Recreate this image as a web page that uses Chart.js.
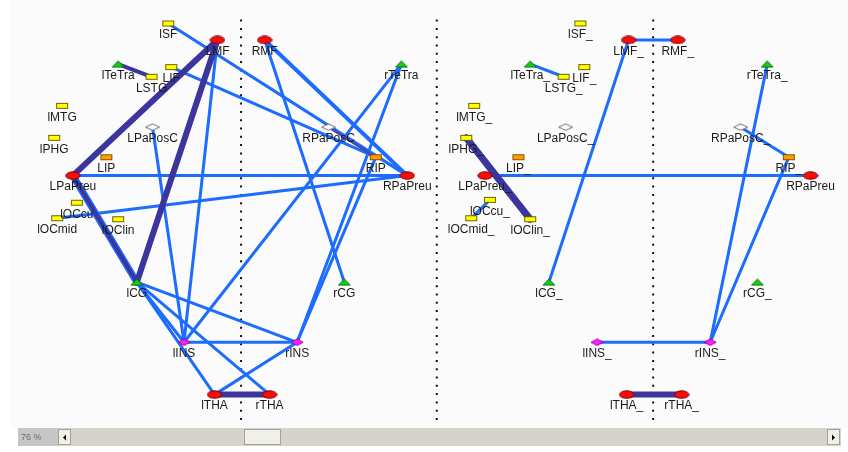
<!DOCTYPE html>
<html>
<head>
<meta charset="utf-8">
<script src="https://cdn.jsdelivr.net/npm/chart.js@4.4.1/dist/chart.umd.min.js"></script>
<style>
html,body{margin:0;padding:0;background:#ffffff;overflow:hidden;}
#wrap{position:absolute;left:0;top:0;width:848px;height:452px;}
</style>
</head>
<body>
<div id="wrap"><canvas id="c" width="848" height="452"></canvas></div>
<script>
// ---- data ----
const nodeNames = ["lSF","LMF","RMF","lTeTra","LSTG","LIF","rTeTra","lMTG","lPHG","LPaPosC","RPaPosC","LIP","RIP","LPaPreu","RPaPreu","lOCcu","lOCmid","lOClin","lCG","rCG","lINS","rINS","lTHA","rTHA"];
const nodeKinds = ["yellow","red","red","green","yellow","yellow","green","yellow","yellow","white","white","orange","orange","red","red","yellow","yellow","yellow","green","green","magenta","magenta","red","red"];
const leftX  = [164,214,262,113,147,167,401,56,48,148,327,101,375,67,407,71,51,113,132,343,180,295,211,267];
const leftY  = [17,34,34,59,72,62,59,102,135,124,124,155,155,174,174,202,218,219,284,284,346,346,400,400];
const rightX = [583,632,682,532,566,587,773,475,467,568,746,520,795,486,817,491,472,532,551,763,600,715,630,686];
const rightY = [17,34,34,59,72,62,59,102,135,124,124,155,155,174,174,199,218,219,284,284,346,346,400,400];
const rightLabels = nodeNames.map(n => n === "RPaPreu" ? "RPaPreu" : n + "_");

// edges: [from, to, type]  type: "b" = normal link, "B" = strong link, "p" = purple link, "P" = strong purple link
const leftEdges = [
  ["lSF","RPaPreu","b"],["LIF","RIP","b"],["RMF","RPaPreu","B"],["RMF","rCG","b"],
  ["LMF","LPaPreu","P"],["LMF","lCG","P"],["LMF","lINS","b"],["lTeTra","LSTG","p"],
  ["LPaPosC","lINS","b"],["RPaPosC","RIP","q"],["LPaPreu","RPaPreu","b"],["LPaPreu","lCG","u"],
  ["LPaPreu","lCG","p"],["lOCmid","RPaPreu","b"],["lCG","lINS","b"],["lCG","lTHA","b"],
  ["lCG","rTHA","b"],["lCG","rINS","b"],["lINS","rINS","b"],["lINS","rTeTra","b"],
  ["rINS","rTeTra","b"],["rINS","RIP","b"],["lTHA","rINS","b"],["lTHA","rTHA","P"]
];
const rightEdges = [
  ["LMF","RMF","b"],["LMF","lCG","b"],["lTeTra","LSTG","b"],["lPHG","lOClin","W"],
  ["lOCcu","lOCmid","b"],["LPaPreu","RPaPreu","b"],["RPaPosC","RIP","b"],["rTeTra","rINS","b"],
  ["RIP","rINS","b"],["lINS","rINS","b"],["lTHA","rTHA","P"]
];
const guideX = [238,437,657];
const zoomLabel = "76 %";

// ---- styles ----
const BLUE = "rgb(28,108,255)";
const PURPLE = "rgb(58,54,158)";
const edgeStyle = {
  b:{color:BLUE,width:3,order:3},
  B:{color:BLUE,width:4,order:3},
  u:{color:BLUE,width:7,order:4},
  p:{color:PURPLE,width:4,order:2},
  q:{color:"rgb(80,70,170)",width:2.5,order:2},
  P:{color:PURPLE,width:6,order:2},
  W:{color:PURPLE,width:7,order:2}
};

function makeShape(kind){
  const c = document.createElement("canvas");
  const g = c.getContext("2d");
  let w=14,h=8;
  if(kind==="white"){w=16;h=8;}
  if(kind==="red"){w=16;h=9;}
  c.width=w;c.height=h;
  g.lineWidth=1;
  if(kind==="red"){
    g.fillStyle="#ff0a0a";g.strokeStyle="#7a0000";
    g.beginPath();g.ellipse(w/2,h/2,w/2-0.8,h/2-0.8,0,0,Math.PI*2);g.fill();g.stroke();
  } else if(kind==="yellow"||kind==="orange"){
    g.fillStyle = kind==="yellow" ? "#ffff00" : "#ff9c00";
    g.strokeStyle = kind==="yellow" ? "#6e6400" : "#8a5200";
    g.fillRect(1,1,w-2,h-2);g.strokeRect(1.5,1.5,w-3,h-3);
  } else if(kind==="green"){
    g.fillStyle="#10d010";g.strokeStyle="#107010";
    g.beginPath();g.moveTo(w/2,0.8);g.lineTo(w-1,h-1);g.lineTo(1,h-1);g.closePath();g.fill();g.stroke();
  } else {
    g.fillStyle = kind==="white" ? "#ffffff" : "#ff20ff";
    g.strokeStyle = kind==="white" ? "#707070" : "#a000a0";
    g.beginPath();g.moveTo(w/2,0.8);g.lineTo(w-1,h/2);g.lineTo(w/2,h-0.8);g.lineTo(1,h/2);g.closePath();g.fill();g.stroke();
  }
  return c;
}
const shapes = {};
["red","yellow","orange","green","white","magenta"].forEach(k=>shapes[k]=makeShape(k));

const datasets = [];
function addEdges(edges, xs, ys){
  edges.forEach(e=>{
    const a = nodeNames.indexOf(e[0]), b = nodeNames.indexOf(e[1]);
    const s = edgeStyle[e[2]];
    datasets.push({
      data:[{x:xs[a],y:ys[a]},{x:xs[b],y:ys[b]}],
      showLine:true,borderColor:s.color,borderWidth:s.width,pointRadius:0,
      borderCapStyle:"round",order:s.order
    });
  });
}
addEdges(leftEdges,leftX,leftY);
addEdges(rightEdges,rightX,rightY);

guideX.forEach(gx=>{
  datasets.push({data:[{x:gx,y:13},{x:gx,y:430}],showLine:true,borderColor:"#111",borderWidth:2,
    borderDash:[2,6.3],pointRadius:0,order:6});
});

function addNodes(xs, ys){
  datasets.push({
    data: xs.map((x,i)=>({x:x,y:ys[i]})),
    pointStyle: nodeKinds.map(k=>shapes[k]),
    pointRadius:6,showLine:false,order:0
  });
}
addNodes(leftX,leftY);
addNodes(rightX,rightY);

const decor = {
  id:"decor",
  beforeDraw(chart){
    const g = chart.ctx;
    g.save();
    g.fillStyle="#ffffff";g.fillRect(0,0,848,452);
    g.fillStyle="#fbfbfb";g.fillRect(11,0,837,428);
    g.restore();
  },
  afterDatasetsDraw(chart){
    const g = chart.ctx, xs = chart.scales.x, ys = chart.scales.y;
    g.save();
    g.font = "12px 'Liberation Sans', Arial, sans-serif";
    g.fillStyle = "#1a1a1a";
    g.textAlign = "center"; g.textBaseline = "middle";
    nodeNames.forEach((n,i)=>{
      g.fillText(n, xs.getPixelForValue(leftX[i]), ys.getPixelForValue(leftY[i]) + 11.5);
      g.fillText(rightLabels[i], xs.getPixelForValue(rightX[i]), ys.getPixelForValue(rightY[i]) + 11.5);
    });
    g.restore();
  },
  afterDraw(chart){
    const g = chart.ctx;
    g.save();
    // scrollbar
    g.fillStyle="#d6d3cc";g.fillRect(18,428,823,18);
    g.fillStyle="#c6c6c6";g.fillRect(18,428,40,18);
    g.fillStyle="#6c6c6c";g.font="9px 'Liberation Sans', Arial, sans-serif";
    g.textAlign="left";g.textBaseline="middle";g.fillText(zoomLabel,21,437.5);
    function btn(x,w){
      g.fillStyle="#f0efe8";g.fillRect(x,429,w,16);
      g.strokeStyle="#a0a0a0";g.lineWidth=1;g.strokeRect(x+0.5,429.5,w-1,15);
    }
    btn(58,13);btn(244,37);btn(827,13);
    g.fillStyle="#000";
    g.beginPath();g.moveTo(63,437.5);g.lineTo(66,434.5);g.lineTo(66,440.5);g.closePath();g.fill();
    g.beginPath();g.moveTo(835,437.5);g.lineTo(832,434.5);g.lineTo(832,440.5);g.closePath();g.fill();
    g.restore();
  }
};

new Chart(document.getElementById("c"),{
  type:"scatter",
  data:{datasets:datasets},
  options:{
    responsive:false,animation:false,events:[],
    layout:{padding:0},
    plugins:{legend:{display:false},tooltip:{enabled:false}},
    scales:{
      x:{type:"linear",min:0,max:848,display:false},
      y:{type:"linear",min:0,max:452,reverse:true,display:false}
    }
  },
  plugins:[decor]
});
</script>
</body>
</html>
